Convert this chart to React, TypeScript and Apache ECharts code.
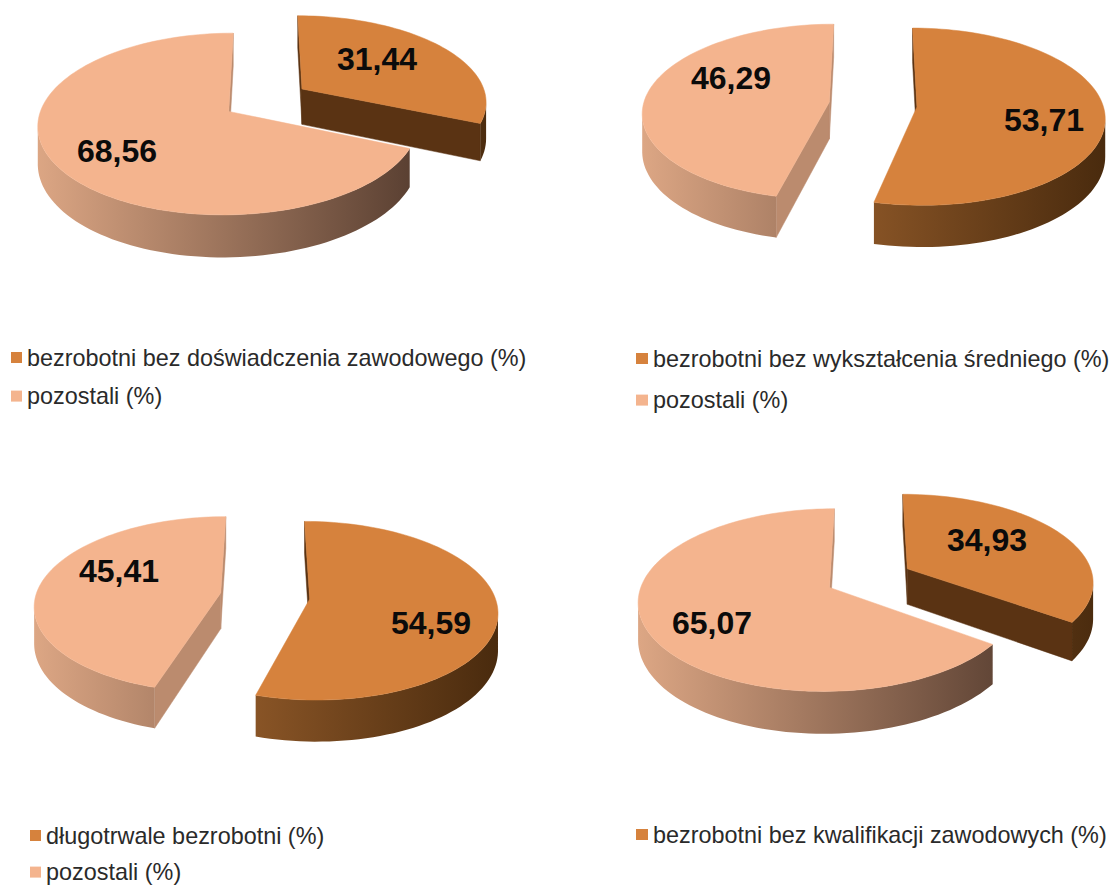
import React, { useEffect, useRef } from "react";
import * as echarts from "echarts";

const categoryNames = [
  "bezrobotni bez doświadczenia zawodowego (%)",
  "bezrobotni bez wykształcenia średniego (%)",
  "długotrwale bezrobotni (%)",
  "bezrobotni bez kwalifikacji zawodowych (%)",
];
const otherName = "pozostali (%)";
const mainValues = [31.44, 53.71, 54.59, 34.93];
const otherValues = [68.56, 46.29, 45.41, 65.07];

// Layout of each pie: plane centre, radii, perspective, explosion, depth
const pieLayouts = [
  { cx: 266, cy: 100, rx: 185, ry: 86, k: 0.136, e: 0.237, d: 36 },
  { cx: 873, cy: 104.5, rx: 186, ry: 87, k: 0.11, e: 0.237, d: 37 },
  { cx: 265, cy: 596, rx: 185, ry: 87, k: 0.13, e: 0.243, d: 36 },
  { cx: 869, cy: 578, rx: 186, ry: 87, k: 0.136, e: 0.235, d: 36 },
];
const mainLabelPos = [[377, 59], [1044, 120], [431, 623], [987, 540]];
const otherLabelPos = [[117, 151], [731, 78], [119, 571], [712, 623]];
const legendLayouts = [
  { left: 11, top: 346, gap: 15.6, icon: 11, font: 23.4 },
  { left: 636, top: 347, gap: 18.6, icon: 12, font: 23.4 },
  { left: 30, top: 824, gap: 13.6, icon: 11, font: 23.4 },
  { left: 636, top: 823, gap: 17.6, icon: 12, font: 23.4 },
];

const palette = {
  main: { top: "#D6823D", cut: "#5A3313", sideA: "#C27A3C", sideB: "#4A2B0E", stop: 1 },
  other: { top: "#F4B48E", cut: "#BB8B6E", sideA: "#DCA684", sideB: "#5A4032", stop: 0.82 },
};

type Layout = (typeof pieLayouts)[number];

function project(l: Layout, u: number, v: number) {
  const s = 1 / (1 + l.k * v);
  return { x: l.cx + l.rx * u * s, y: l.cy - l.ry * v * s, s };
}

function sliceRenderer(
  l: Layout,
  startDeg: number,
  colors: typeof palette.main,
  labelPos: number[],
) {
  return (_params: any, api: any) => {
    const value = api.value(0) as number;
    const sweep = value * 3.6;
    const mid = ((startDeg + sweep / 2) * Math.PI) / 180;
    const ou = Math.sin(mid) * l.e;
    const ov = Math.cos(mid) * l.e;
    const apex = project(l, ou, ov);
    const steps = Math.max(8, Math.round(sweep / 2));
    const arc: { x: number; y: number; s: number }[] = [];
    for (let i = 0; i <= steps; i++) {
      const a = ((startDeg + (sweep * i) / steps) * Math.PI) / 180;
      arc.push(project(l, ou + Math.sin(a), ov + Math.cos(a)));
    }
    const drop = (p: { x: number; y: number; s: number }) => [p.x, p.y + l.d * p.s];
    const flat = (p: { x: number; y: number }) => [p.x, p.y];
    const children: any[] = [];
    const face = (a: any, b: any, fill: any) => ({
      type: "polygon",
      shape: { points: [flat(a), flat(b), drop(b), drop(a)] },
      style: { fill, stroke: fill, lineWidth: 0.5 },
    });
    // cut faces: the outline runs clockwise, so an edge going left faces the viewer
    const first = arc[0];
    const last = arc[arc.length - 1];
    if (first.x < apex.x) children.push(face(apex, first, colors.cut));
    if (apex.x < last.x) children.push(face(last, apex, colors.cut));
    // outer rim
    const gradient = new echarts.graphic.LinearGradient(
      l.cx - l.rx * (1 + l.e), 0, l.cx + l.rx * (1 + l.e), 0,
      [
        { offset: 0, color: colors.sideA },
        { offset: colors.stop, color: colors.sideB },
        { offset: 1, color: colors.sideB },
      ],
      true,
    );
    let run: typeof arc = [];
    const flush = () => {
      if (run.length > 1) {
        children.push({
          type: "polygon",
          shape: { points: [...run.map(flat), ...run.slice().reverse().map(drop)] },
          style: { fill: gradient },
        });
      }
      run = [];
    };
    for (let i = 1; i < arc.length; i++) {
      if (arc[i].x < arc[i - 1].x) {
        if (!run.length) run.push(arc[i - 1]);
        run.push(arc[i]);
      } else flush();
    }
    flush();
    // top surface
    children.push({
      type: "polygon",
      shape: { points: [flat(apex), ...arc.map(flat)] },
      style: { fill: colors.top, stroke: colors.top, lineWidth: 0.5 },
    });
    children.push({
      type: "text",
      x: labelPos[0],
      y: labelPos[1],
      style: {
        text: value.toFixed(2).replace(".", ","),
        fill: "#0B0B0B",
        font: 'bold 32px "Liberation Sans", Arial, sans-serif',
        align: "center",
        verticalAlign: "middle",
      },
    });
    return { type: "group", children };
  };
}

export default function App() {
  const ref = useRef<HTMLDivElement>(null);
  useEffect(() => {
    const chart = echarts.init(ref.current!, undefined, { renderer: "svg" });
    const series: any[] = [];
    pieLayouts.forEach((l, i) => {
      series.push({
        type: "custom",
        name: categoryNames[i],
        coordinateSystem: "none",
        data: [mainValues[i]],
        itemStyle: { color: palette.main.top },
        renderItem: sliceRenderer(l, 0, palette.main, mainLabelPos[i]),
      });
      series.push({
        type: "custom",
        name: otherName,
        coordinateSystem: "none",
        data: [otherValues[i]],
        itemStyle: { color: palette.other.top },
        renderItem: sliceRenderer(l, mainValues[i] * 3.6, palette.other, otherLabelPos[i]),
      });
    });
    chart.setOption({
      animation: false,
      backgroundColor: "#FFFFFF",
      legend: legendLayouts.map((g, i) => ({
        show: true,
        orient: "vertical",
        left: g.left,
        top: g.top,
        padding: 0,
        itemWidth: g.icon,
        itemHeight: 11,
        itemGap: g.gap,
        icon: "rect",
        selectedMode: false,
        data: [categoryNames[i], otherName],
        textStyle: {
          color: "#2A2A2A",
          fontFamily: '"Liberation Sans", Arial, sans-serif',
          fontSize: g.font,
        },
      })),
      series,
    });
    return () => chart.dispose();
  }, []);
  return (
    <div
      ref={ref}
      style={{ position: "absolute", left: 0, top: 0, width: 1113, height: 885 }}
    />
  );
}
